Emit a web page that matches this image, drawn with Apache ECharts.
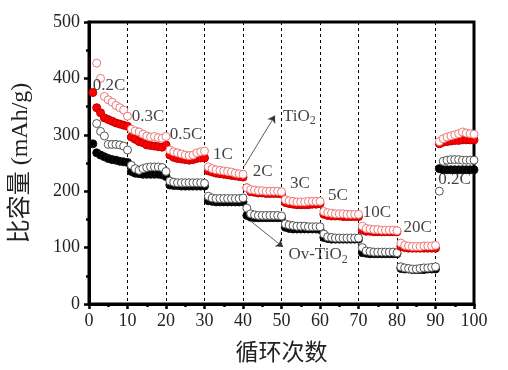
<!DOCTYPE html>
<html><head><meta charset="utf-8">
<script src="https://cdn.jsdelivr.net/npm/echarts@6/dist/echarts.min.js"></script>
<style>html,body{margin:0;padding:0;background:#fff}#c{width:508px;height:370px}</style>
</head><body><div id="c"></div>
<script>
var tioCharge = [null,427,400,368,362,358,352,348,344,333,
 310,307,305,301,298,296,297,295,294,297,
 273,270,268,266,264,263,264,268,270,271,
 243,240,238,237,236,235,234,232,231,230,
 206,203,202,201,201,200,200,200,200,199,
 185,183,182,181,181,181,182,182,182,182,
 164,162,161,160,160,160,159,159,159,159,
 138,134,133,132,132,131,131,131,131,130,
 108,104,103,102,102,102,103,103,103,104,
 288,293,296,298,300,302,305,303,302,301];
var tioDischarge = [375,348,339,330,327,324,321,319,317,315,
 296,292,288,286,282,281,280,279,278,282,
 264,260,258,257,256,255,256,258,259,259,
 236,234,232,231,230,229,228,227,226,225,
 206,199,198,197,197,196,196,196,196,195,
 180,178,177,176,176,176,176,177,177,178,
 159,157,156,156,156,155,155,155,155,155,
 131,129,129,128,128,128,128,128,128,128,
 102,100,99,99,99,99,99,99,99,99,
 284,287,288,289,290,290,291,291,291,291];
var ovCharge = [null,320,306,298,283,283,283,282,280,273,
 246,240,237,240,242,243,243,243,242,235,
 218,216,215,215,215,215,215,215,215,214,
 191,188,187,187,187,187,187,187,187,188,
 170,160,158,157,157,157,157,157,157,156,
 142,140,139,138,138,138,137,137,137,137,
 124,119,118,117,117,117,117,117,117,117,
 100,94,93,92,92,92,92,92,92,91,
 66,64,63,62,62,63,64,64,65,66,
 200,253,255,256,256,256,255,255,255,255];
var ovDischarge = [284,268,264,261,258,256,255,253,252,251,
 235,232,231,230,230,230,230,230,229,226,
 211,210,210,209,209,209,209,209,209,209,
 183,182,181,181,181,181,181,181,181,181,
 157,154,153,153,153,153,153,153,153,153,
 136,134,133,133,133,133,133,133,133,132,
 118,116,115,115,115,115,115,115,115,115,
 91,90,89,89,89,89,89,89,89,89,
 63,62,62,61,61,61,61,62,62,62,
 240,238,238,238,238,238,238,238,238,238];
var rateLabels = ['0.2C','0.3C','0.5C','1C','2C','3C','5C','10C','20C','0.2C'];
var rateLabelPos = [[1.0,387],[11.1,333],[21.0,300],[32.2,265],[42.5,235],[52.2,214],[62.1,192],[71.1,162],[81.7,136],[90.7,220]];
var sampleLabels = ['{n|TiO}{s|2}','{n|Ov-TiO}{s|2}'];
var sampleLabelPos = [[50.4,333],[51.8,88]];
var arrows = [[[40.3,244],[48.3,334]],[[41.8,148],[50.4,101]]];
var xTicks = [0,10,20,30,40,50,60,70,80,90,100];
var yTicks = [0,100,200,300,400,500];

function pairs(vals){var out=[];for(var i=0;i<vals.length;i++){out.push([i+1,vals[i]]);}return out;}
var FONT = '"Liberation Serif","Noto Sans CJK SC",serif';
var chart = echarts.init(document.getElementById('c'), null, {renderer:'canvas'});
var labelData = [];
rateLabels.forEach(function(t,i){labelData.push({value:rateLabelPos[i],name:t});});
sampleLabels.forEach(function(t,i){labelData.push({value:sampleLabelPos[i],name:t});});
function sc(name,data,fill,stroke,z){
  return {name:name,type:'scatter',data:pairs(data),symbol:'circle',symbolSize:8,z:z,
    itemStyle:{color:fill,borderColor:stroke,borderWidth:1,opacity:1},silent:true};
}
chart.setOption({
  animation:false,
  backgroundColor:'#fff',
  grid:{left:89,right:34,top:22,bottom:62,show:true,borderColor:'#000',borderWidth:3,backgroundColor:'transparent'},
  xAxis:{type:'value',min:xTicks[0],max:xTicks[xTicks.length-1],interval:10,
    name:'循环次数',nameLocation:'middle',nameGap:38,
    nameTextStyle:{fontFamily:FONT,fontSize:23,color:'#222'},
    axisLine:{show:true,onZero:false,lineStyle:{color:'#000',width:3}},
    axisTick:{show:true,inside:false,length:5,lineStyle:{width:2.5,color:'#000'}},
    minorTick:{show:true,splitNumber:2,length:3,lineStyle:{width:2.5,color:'#000'}},
    axisLabel:{fontFamily:FONT,fontSize:18,color:'#222',margin:8},
    splitLine:{show:true,lineStyle:{type:[3,3],color:'#000',width:1}}},
  yAxis:{type:'value',min:yTicks[0],max:yTicks[yTicks.length-1],interval:100,
    name:'比容量 (mAh/g)',nameLocation:'middle',nameGap:56,
    nameTextStyle:{fontFamily:FONT,fontSize:24,color:'#222'},
    axisLine:{show:true,onZero:false,lineStyle:{color:'#000',width:3}},
    axisTick:{show:true,inside:false,length:5,lineStyle:{width:2.5,color:'#000'}},
    minorTick:{show:true,splitNumber:2,length:3,lineStyle:{width:2.5,color:'#000'}},
    axisLabel:{fontFamily:FONT,fontSize:18,color:'#222',margin:9},
    splitLine:{show:false}},
  series:[
    sc('Ov-TiO2 discharge',ovDischarge,'#000','#111',2),
    sc('Ov-TiO2 charge',ovCharge,'#fff','#555',3),
    sc('TiO2 discharge',tioDischarge,'#ff0000','#c00000',4),
    sc('TiO2 charge',tioCharge,'#fff','#ee7777',5),
    {type:'scatter',data:labelData,symbolSize:0,z:10,silent:true,
     label:{show:true,position:'right',distance:0,formatter:function(p){return p.name;},
       fontFamily:FONT,fontSize:17,color:'#111',
       rich:{n:{fontFamily:FONT,fontSize:17,color:'#111'},
             s:{fontFamily:FONT,fontSize:12,color:'#111',padding:[10,0,0,0]}}},
     markLine:{silent:true,symbol:['none','arrow'],symbolSize:7,animation:false,
       label:{show:false},
       lineStyle:{color:'#333',width:0.8,type:'solid'},
       data:arrows.map(function(a){return [{coord:a[0]},{coord:a[1]}];})}}
  ]
});
</script></body></html>
